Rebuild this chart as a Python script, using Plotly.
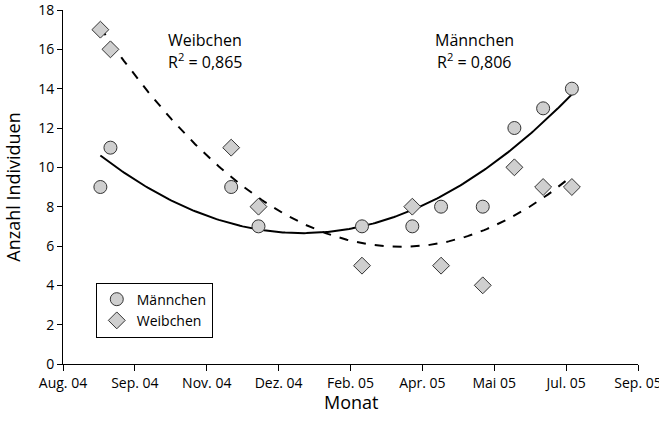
import numpy as np
import pandas as pd
import plotly.graph_objects as go

# Sampling dates (Aug 2004 - Jul 2005)
dates = ["2004-08-27", "2004-09-03", "2004-11-26", "2004-12-15", "2005-02-25",
         "2005-04-01", "2005-04-21", "2005-05-20", "2005-06-11", "2005-07-01",
         "2005-07-21"]
maennchen = [9, 11, 9, 7, 7, 7, 8, 8, 12, 13, 14]
weibchen = [17, 16, 11, 8, 5, 8, 5, 4, 10, 9, 9]

# Axis ticks every 50 days from 1 Aug 2004
tick_labels = ["Aug. 04", "Sep. 04", "Nov. 04", "Dez. 04", "Feb. 05",
               "Apr. 05", "Mai 05", "Jul. 05", "Sep. 05"]
r2_maennchen = "0,806"
r2_weibchen = "0,865"

start = pd.Timestamp("2004-08-01")
x = pd.to_datetime(dates)
days = np.array([(d - start).days for d in x], dtype=float)
tick_vals = [start + pd.Timedelta(days=50 * i) for i in range(len(tick_labels))]

# Second-order polynomial trend lines
xs = np.linspace(days.min(), days.max(), 200)
xs_dates = [start + pd.Timedelta(days=float(v)) for v in xs]
fit_m = np.polyval(np.polyfit(days, maennchen, 2), xs)
fit_w = np.polyval(np.polyfit(days, weibchen, 2), xs)

font = "Open Sans, Arial, sans-serif"
fig = go.Figure()
fig.add_trace(go.Scatter(x=xs_dates, y=fit_m, mode="lines", showlegend=False,
                         line=dict(color="black", width=2), hoverinfo="skip"))
fig.add_trace(go.Scatter(x=xs_dates, y=fit_w, mode="lines", showlegend=False,
                         line=dict(color="black", width=2, dash="dash"),
                         hoverinfo="skip"))
fig.add_trace(go.Scatter(x=x, y=maennchen, mode="markers", name="Männchen",
                         marker=dict(symbol="circle", size=13, color="#cfcfcf",
                                     line=dict(color="#333333", width=1))))
fig.add_trace(go.Scatter(x=x, y=weibchen, mode="markers", name="Weibchen",
                         marker=dict(symbol="diamond", size=13, color="#cfcfcf",
                                     line=dict(color="#333333", width=1))))

# Trend line labels: name and coefficient of determination
for xpos, name, r2 in [(pd.Timestamp("2004-11-08"), "Weibchen", r2_weibchen),
                       (pd.Timestamp("2005-05-14"), "Männchen", r2_maennchen)]:
    fig.add_annotation(x=xpos, y=16.45, text=name, showarrow=False,
                       font=dict(size=16, color="black"))
    fig.add_annotation(x=xpos, y=15.4, text="R<sup>2</sup> = " + r2,
                       showarrow=False, font=dict(size=16, color="black"))

# x-axis title placed close under the tick labels
fig.add_annotation(x=0.5, y=-0.106, xref="paper", yref="paper",
                   text="Monat", showarrow=False, yanchor="middle",
                   font=dict(size=18, color="black"))

fig.update_layout(
    width=659, height=433,
    margin=dict(l=63, r=21, t=10, b=69),
    plot_bgcolor="white", paper_bgcolor="white",
    font=dict(family=font, color="black", size=14),
    legend=dict(x=0.057, y=0.23, xanchor="left", yanchor="top",
                bordercolor="black", borderwidth=1, bgcolor="white",
                font=dict(size=14)),
    xaxis=dict(range=[tick_vals[0], tick_vals[-1]], tickvals=tick_vals,
               ticktext=tick_labels, showgrid=False, zeroline=False,
               showline=True, linecolor="black", linewidth=1,
               ticks="outside", ticklen=6, tickcolor="black",
               ticklabeloverflow="allow", automargin=False),
    yaxis=dict(range=[0, 18], tickvals=list(range(0, 19, 2)),
               showgrid=False, zeroline=False,
               showline=True, linecolor="black", linewidth=1,
               ticks="outside", ticklen=5, tickcolor="black",
               ticklabeloverflow="allow", automargin=False,
               title=dict(text="Anzahl Individuen", font=dict(size=18),
                          standoff=12)),
)

fig.write_html("out.html")
